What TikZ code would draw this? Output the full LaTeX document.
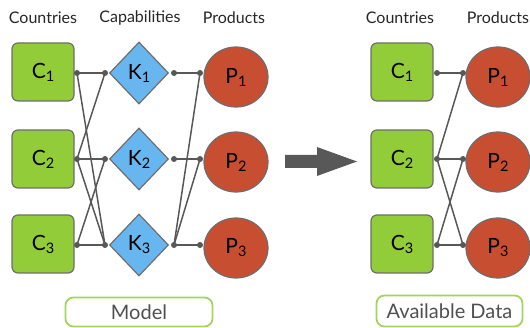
\documentclass[tikz,border=0pt]{standalone}
\usepackage{fontspec}
\setmainfont{Lato}
\usetikzlibrary{shapes.geometric}
\definecolor{cgreen}{RGB}{146,204,56}
\definecolor{kblue}{RGB}{104,182,240}
\definecolor{pred}{RGB}{200,78,50}
\definecolor{edgegray}{RGB}{88,88,88}
\definecolor{bordergray}{RGB}{110,110,110}
\definecolor{lblgreen}{RGB}{165,212,95}
\definecolor{txtgray}{RGB}{80,80,80}
\newcommand{\subn}[1]{\raisebox{-3pt}{\fontsize{14.5}{14.5}\selectfont #1}}
\begin{document}
\begin{tikzpicture}[x=1pt,y=-1pt,
 nodefont/.style={font=\fontsize{21}{21}\selectfont},
 cbox/.style={draw=bordergray, line width=1.2pt, fill=cgreen, rounded corners=6pt, minimum width=62pt, minimum height=58pt, inner sep=0pt, nodefont},
 kdia/.style={diamond, draw=bordergray, line width=1.2pt, fill=kblue, minimum width=59pt, minimum height=62pt, inner sep=0pt, nodefont},
 pcirc/.style={ellipse, draw=bordergray, line width=1.2pt, fill=pred, minimum width=64pt, minimum height=60pt, inner sep=0pt, nodefont},
 hdr/.style={font=\fontsize{16}{16}\selectfont, text=black!85},
 lbl/.style={draw=lblgreen, line width=1.8pt, rounded corners=8pt, text=txtgray, font=\fontsize{20}{20}\selectfont, inner sep=0pt},
 link/.style={draw=edgegray, line width=1.5pt},
 dotnode/.style={circle, fill=edgegray, inner sep=0pt, minimum size=6pt}
]
\useasboundingbox (0,0) rectangle (530,328);

% headers
\node[hdr] (h1) at (43,18) {Countries};
\node[hdr] (h2) at (140,18) {Capabilities};
\node[hdr] (h3) at (234,18) {Products};
\node[hdr] (h4) at (400,18) {Countries};
\node[hdr] (h5) at (498,18) {Products};

% model nodes
\node[cbox] (c1) at (43,72) {C\subn{1}};
\node[cbox] (c2) at (43,159) {C\subn{2}};
\node[cbox] (c3) at (43,244) {C\subn{3}};
\node[kdia] (k1) at (139,73) {K\subn{1}};
\node[kdia] (k2) at (139,159) {K\subn{2}};
\node[kdia] (k3) at (139,245) {K\subn{3}};
\node[pcirc] (p1) at (236,77) {P\subn{1}};
\node[pcirc] (p2) at (236,162) {P\subn{2}};
\node[pcirc] (p3) at (236,248) {P\subn{3}};

% model dots
\node[dotnode] (c1d) at (77,73) {};
\node[dotnode] (c2d) at (77,159) {};
\node[dotnode] (c3d) at (77,245) {};
\node[dotnode] (k1l) at (105,73) {};
\node[dotnode] (k2l) at (105,159) {};
\node[dotnode] (k3l) at (105,245) {};
\node[dotnode] (k1r) at (174,73) {};
\node[dotnode] (k2r) at (174,159) {};
\node[dotnode] (k3r) at (174,245) {};
\node[dotnode] (p1d) at (200,73) {};
\node[dotnode] (p2d) at (200,159) {};
\node[dotnode] (p3d) at (200,245) {};

% model links
\draw[link] (c1d.center) -- (k1l.center);
\draw[link] (c1d.center) -- (k3l.center);
\draw[link] (c2d.center) -- (k1l.center);
\draw[link] (c2d.center) -- (k2l.center);
\draw[link] (c2d.center) -- (k3l.center);
\draw[link] (c3d.center) -- (k2l.center);
\draw[link] (c3d.center) -- (k3l.center);
\draw[link] (k1r.center) -- (p1d.center);
\draw[link] (k2r.center) -- (p2d.center);
\draw[link] (k3r.center) -- (p3d.center);
\draw[link] (k3r.center) -- (p1d.center);
\draw[link] (k3r.center) -- (p2d.center);

% big arrow
\fill[edgegray] (285,155) -- (317,155) -- (317,147) -- (357,161.5) -- (317,176) -- (317,168) -- (285,168) -- cycle;

% available data nodes
\node[cbox] (d1) at (402,72) {C\subn{1}};
\node[cbox] (d2) at (402,159) {C\subn{2}};
\node[cbox] (d3) at (402,244) {C\subn{3}};
\node[pcirc] (q1) at (498,77) {P\subn{1}};
\node[pcirc] (q2) at (498,162) {P\subn{2}};
\node[pcirc] (q3) at (498,248) {P\subn{3}};

\node[dotnode] (d1d) at (437,73) {};
\node[dotnode] (d2d) at (437,159) {};
\node[dotnode] (d3d) at (437,245) {};
\node[dotnode] (q1d) at (463,73) {};
\node[dotnode] (q2d) at (463,159) {};
\node[dotnode] (q3d) at (463,245) {};

\draw[link] (d1d.center) -- (q1d.center);
\draw[link] (d2d.center) -- (q1d.center);
\draw[link] (d2d.center) -- (q2d.center);
\draw[link] (d2d.center) -- (q3d.center);
\draw[link] (d3d.center) -- (q2d.center);
\draw[link] (d3d.center) -- (q3d.center);

% labels
\node[lbl, minimum width=147pt, minimum height=29pt] (model) at (139,312) {Model};
\node[lbl, minimum width=146pt, minimum height=31pt] (avail) at (449.5,311) {Available Data};
\end{tikzpicture}
\end{document}
